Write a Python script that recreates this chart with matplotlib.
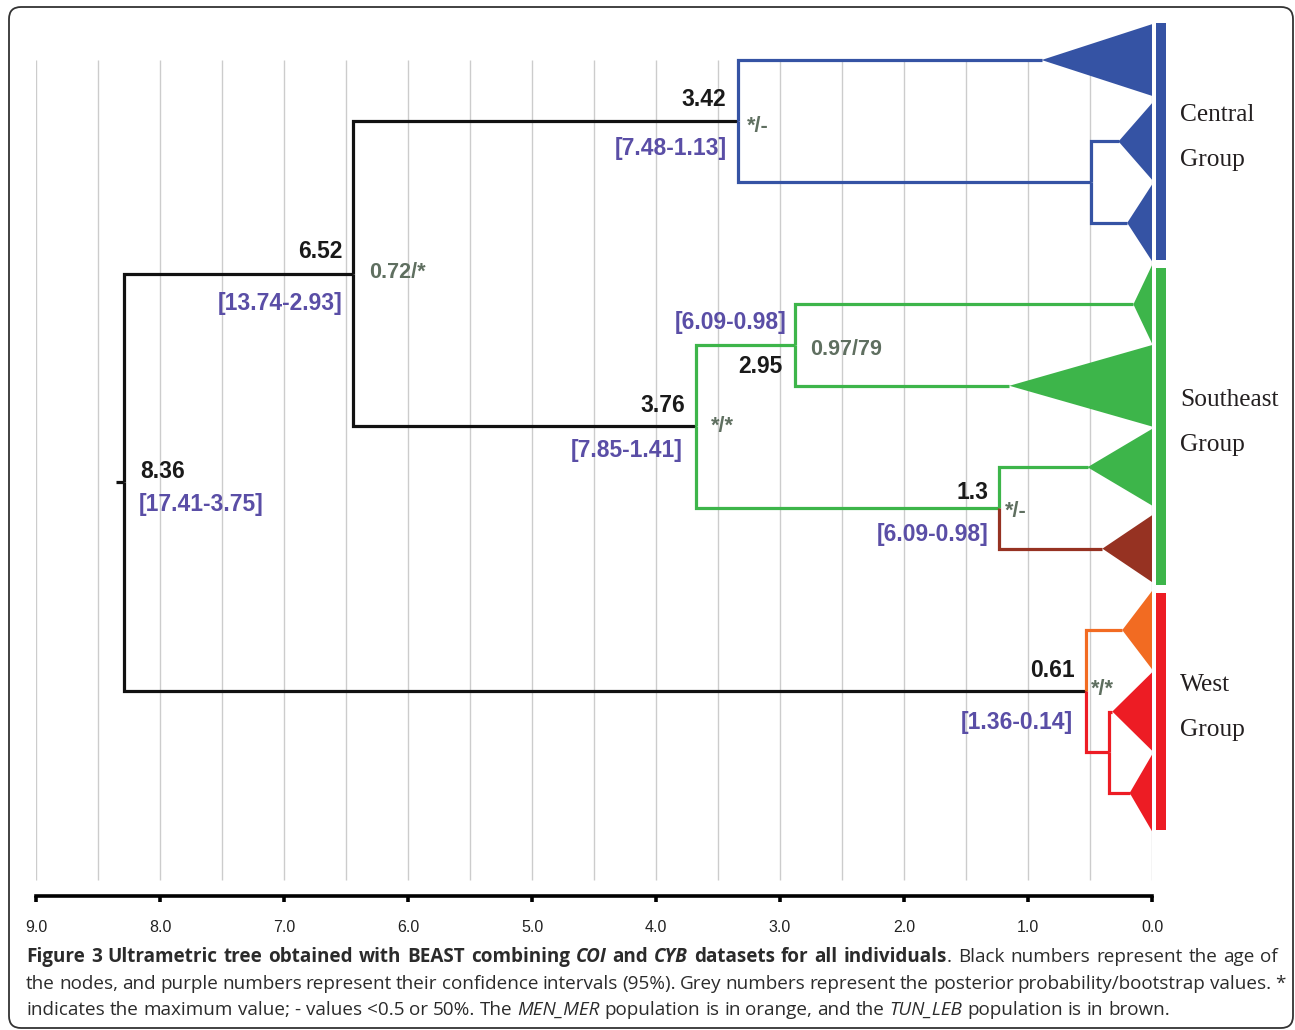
import matplotlib
matplotlib.use('Agg')
import numpy as np
import matplotlib.pyplot as plt
from matplotlib.patches import Polygon, FancyBboxPatch
from matplotlib.transforms import IdentityTransform

# collapsed clades (triangles), top to bottom: depth of the apex and half height (rows)
clade_depth = [0.89, 0.27, 0.20, 0.15, 1.15, 0.52, 0.40, 0.24, 0.32, 0.18]
clade_half = [0.44, 0.47, 0.47, 0.48, 0.50, 0.47, 0.41, 0.48, 0.48, 0.47]
clade_color = ['blue', 'blue', 'blue', 'green', 'green', 'green', 'brown', 'orange', 'red', 'red']

# internal nodes: position on the time axis (as drawn)
node_pos = {'root': 8.29, 'n652': 6.44, 'n342': 3.34, 'sub_c': 0.49, 'n376': 3.68,
            'n295': 2.88, 'n13': 1.23, 'n061': 0.53, 'sub_w': 0.35}

# parent, child, colour of the branch
edges = [('root', 'n652', 'black'), ('root', 'n061', 'black'),
         ('n652', 'n342', 'black'), ('n652', 'n376', 'black'),
         ('n342', 0, 'blue'), ('n342', 'sub_c', 'blue'),
         ('sub_c', 1, 'blue'), ('sub_c', 2, 'blue'),
         ('n376', 'n295', 'green'), ('n376', 'n13', 'green'),
         ('n295', 3, 'green'), ('n295', 4, 'green'),
         ('n13', 5, 'green'), ('n13', 6, 'brown'),
         ('n061', 7, 'orange'), ('n061', 'sub_w', 'red'),
         ('sub_w', 8, 'red'), ('sub_w', 9, 'red')]

age_label = {'root': '8.36', 'n652': '6.52', 'n342': '3.42', 'n376': '3.76',
             'n295': '2.95', 'n13': '1.3', 'n061': '0.61'}
ci_label = {'root': '[17.41-3.75]', 'n652': '[13.74-2.93]', 'n342': '[7.48-1.13]',
            'n376': '[7.85-1.41]', 'n295': '[6.09-0.98]', 'n13': '[6.09-0.98]',
            'n061': '[1.36-0.14]'}
support_label = {'n652': '0.72/*', 'n342': '*/-', 'n376': '*/*', 'n295': '0.97/79',
                 'n13': '*/-', 'n061': '*/*'}

groups = ['Central', 'Southeast', 'West']
group_first = [0, 3, 7]
group_last = [2, 6, 9]
group_color = ['blue', 'green', 'red']

tick_vals = [9.0, 8.0, 7.0, 6.0, 5.0, 4.0, 3.0, 2.0, 1.0, 0.0]
tick_labels = ['9.0', '8.0', '7.0', '6.0', '5.0', '4.0', '3.0', '2.0', '1.0', '0.0']

colors = {'black': '#111111', 'blue': '#3553a4', 'green': '#3db54a', 'brown': '#963222',
          'orange': '#f26b22', 'red': '#ed1c24'}
purple = '#5a4ea6'
grey = '#5f6f60'

# label offsets in pixels (dx, dy up)
age_off = {'root': (16, 11, 'left'), 'n652': (-11, 22, 'right'), 'n342': (-12, 22, 'right'),
           'n376': (-11, 21, 'right'), 'n295': (-12, -21, 'right'), 'n13': (-11, 15, 'right'),
           'n061': (-12, 21, 'right')}
ci_off = {'root': (15, -22, 'left'), 'n652': (-11, -30, 'right'), 'n342': (-11, -27, 'right'),
          'n376': (-13, -24, 'right'), 'n295': (-8, 23, 'right'), 'n13': (-11, -27, 'right'),
          'n061': (-13, -31, 'right')}
sup_off = {'n652': (16, 1), 'n342': (9, -5), 'n376': (15, 0), 'n295': (15, -4),
           'n13': (5, -4), 'n061': (5, 2)}

W, H = 1295, 1030
fig = plt.figure(figsize=(W / 100, H / 100), dpi=100)
ax = fig.add_axes([36 / W, (H - 896) / H, 1116 / W, (896 - 25) / H])
ax.set_xlim(9.0, 0.0)
ax.set_ylim(10.265, -0.43)

# tree layout: y of every node
children = {}
for p, c, col in edges:
    children.setdefault(p, []).append(c)


def node_y(n):
    if isinstance(n, int):
        return n
    ys = [node_y(c) for c in children[n]]
    return (ys[0] + ys[-1]) / 2


def node_x(n):
    if isinstance(n, int):
        return clade_depth[n]
    return node_pos[n]


# grid
ax.vlines(np.arange(0, 9.01, 0.5), 0, 10.07, color='#cccccc', lw=1, zorder=0)

# branches
for p, c, col in edges:
    ax.plot([node_x(p), node_x(p), node_x(c)], [node_y(p), node_y(c), node_y(c)],
            color=colors[col], lw=2.3, solid_joinstyle='miter', solid_capstyle='butt',
            zorder=3, clip_on=False)
ax.plot([node_pos['root'] + 0.065, node_pos['root']], [node_y('root')] * 2,
        color=colors['black'], lw=2.3, solid_capstyle='butt', zorder=3)

# collapsed clades
for i in range(len(clade_depth)):
    tri = Polygon([(clade_depth[i], i), (0, i - clade_half[i]), (0, i + clade_half[i])],
                  closed=True, facecolor=colors[clade_color[i]], edgecolor='none',
                  zorder=4, clip_on=False)
    ax.add_patch(tri)

# group bars and names
for g in range(len(groups)):
    lo = group_first[g] - 0.45
    hi = group_last[g] + 0.45
    ax.bar(-0.0725, hi - lo, bottom=lo, width=0.081, color=colors[group_color[g]],
           zorder=4, clip_on=False)
    mid = (group_first[g] + group_last[g]) / 2 - 0.05
    ax.text(-0.226, mid - 0.28, groups[g], ha='left', va='center', fontsize=18.3,
            family='Liberation Serif', color='#231f20', clip_on=False)
    ax.text(-0.226, mid + 0.28, 'Group', ha='left', va='center', fontsize=18.3,
            family='Liberation Serif', color='#231f20', clip_on=False)

# node labels
for n in age_label:
    xy = (node_x(n), node_y(n))
    dx, dy, ha = age_off[n]
    ax.annotate(age_label[n], xy, xytext=(dx, dy), textcoords='offset pixels', ha=ha,
                va='center', fontsize=16.5, fontweight='bold', family='Liberation Sans',
                color='#1a1a1a', zorder=6)
    dx, dy, ha = ci_off[n]
    ax.annotate(ci_label[n], xy, xytext=(dx, dy), textcoords='offset pixels', ha=ha,
                va='center', fontsize=16.5, fontweight='bold', family='Liberation Sans',
                color=purple, zorder=6)
    if n in support_label:
        dx, dy = sup_off[n]
        ax.annotate(support_label[n], xy, xytext=(dx, dy), textcoords='offset pixels',
                    ha='left', va='center', fontsize=15.5, fontweight='bold',
                    family='Liberation Sans', color=grey, zorder=6)

# time axis
for s in ['top', 'left', 'right']:
    ax.spines[s].set_visible(False)
ax.spines['bottom'].set_linewidth(2.6)
ax.spines['bottom'].set_capstyle('projecting')
ax.set_xticks(tick_vals)
ax.set_xticklabels(tick_labels, family='Liberation Sans', fontsize=11.5, color='#222222')
ax.tick_params(axis='x', direction='out', length=4.5, width=2.6, pad=12.5)
ax.set_yticks([])
ax.patch.set_alpha(0)

# caption, justified word by word
cap_font = 'Open Sans'
cap_size = 13.6
cap_color = '#2b2b2b'
caption = [
    ([('Figure 3 Ultrametric tree obtained with BEAST combining ', 'bold', 'normal'),
      ('COI', 'bold', 'italic'), (' and ', 'bold', 'normal'), ('CYB', 'bold', 'italic'),
      (' datasets for all individuals', 'bold', 'normal'),
      ('. Black numbers represent the age of', 'normal', 'normal')], 957, 1278),
    ([('the nodes, and purple numbers represent their confidence intervals (95%). Grey '
       'numbers represent the posterior probability/bootstrap values. *', 'normal', 'normal')],
     984, 1262),
    ([('indicates the maximum value; - values <0.5 or 50%. The ', 'normal', 'normal'),
      ('MEN_MER', 'normal', 'italic'), (' population is in orange, and the ', 'normal', 'normal'),
      ('TUN_LEB', 'normal', 'italic'), (' population is in brown.', 'normal', 'normal')],
     1010, None),
]

renderer = fig.canvas.get_renderer()


def measure(s, weight='normal', style='normal'):
    t = fig.text(0, 0, s, fontsize=cap_size, family=cap_font, fontweight=weight,
                 fontstyle=style, transform=IdentityTransform())
    w = t.get_window_extent(renderer).width
    t.remove()
    return w


space_w = measure('x x') - measure('xx')
x_left = 26
for runs, y_img, x_right in caption:
    tokens = []
    for txt, weight, style in runs:
        parts = txt.split(' ')
        for j, part in enumerate(parts):
            if j > 0:
                tokens.append(None)
            if part:
                tokens.append((part, weight, style))
    texts = []
    total = 0
    nsp = 0
    for tok in tokens:
        if tok is None:
            nsp += 1
            texts.append(None)
            continue
        t = fig.text(0, H - y_img, tok[0], fontsize=cap_size, family=cap_font,
                     fontweight=tok[1], fontstyle=tok[2], color=cap_color,
                     va='center', ha='left', transform=IdentityTransform())
        total += t.get_window_extent(renderer).width
        texts.append(t)
    sp = space_w
    if x_right is not None and nsp:
        sp = max((x_right - x_left - total) / nsp, 0.85 * space_w)
    x = x_left
    for t in texts:
        if t is None:
            x += sp
        else:
            t.set_x(x)
            x += t.get_window_extent(renderer).width

# rounded frame
frame = FancyBboxPatch((9, 2), 1284, 1021, boxstyle='round,pad=0,rounding_size=12',
                       facecolor='none', edgecolor='#333333', lw=1.3,
                       transform=IdentityTransform())
fig.add_artist(frame)

fig.savefig('out.png', dpi=100)
